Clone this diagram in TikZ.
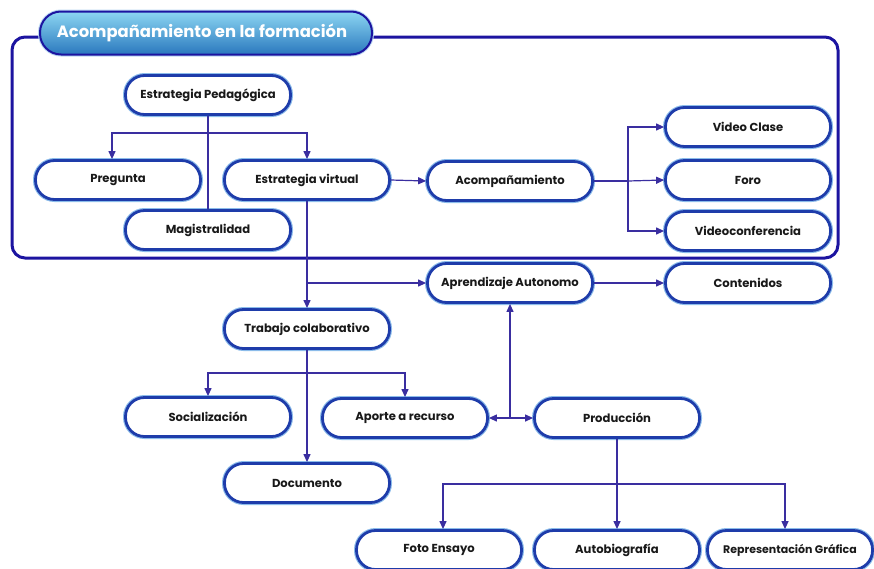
\documentclass[tikz,border=0pt]{standalone}
\usepackage{fontspec}
\setmainfont{Poppins}
\usetikzlibrary{arrows.meta,calc}
\definecolor{navy}{HTML}{1C14A0}
\definecolor{nodeblue}{HTML}{1E3CAA}
\definecolor{halo}{HTML}{8CBCEA}
\definecolor{linkc}{HTML}{3A2EA0}
\definecolor{titletop}{HTML}{8CD6F2}
\definecolor{titlebot}{HTML}{2A78BE}
\tikzset{
  pill/.style={rounded corners=19pt, minimum width=165pt, minimum height=39pt,
    inner sep=0pt, fill=white, draw=nodeblue, line width=2.8pt,
    preaction={draw=halo, line width=5pt},
    font=\bfseries\fontsize{11.6}{13}\selectfont, text=black!90},
  link/.style={draw=linkc, line width=1.2pt},
  arr/.style={link, -{Triangle[length=8pt,width=7pt]}},
  titlepill/.style={rounded corners=21pt, minimum width=332pt, minimum height=43pt,
    inner sep=0pt, top color=titletop, bottom color=titlebot, draw=navy, line width=2pt,
    preaction={draw=halo!60, line width=4pt},
    font=\bfseries\fontsize{16.4}{19}\selectfont, text=white}
}
\begin{document}
\begin{tikzpicture}[x=1pt,y=-1pt]
\useasboundingbox (0,0) rectangle (874,568);
% outer frame of the "formación" group
\draw[navy, line width=3pt, rounded corners=13pt] (12,37) rectangle (838,258);
\node[titlepill] (title) at (206,33) {\hspace*{-8pt}Acompañamiento en la formación};

% nodes
\node[pill] (ep)   at (208,95)  {Estrategia Pedagógica};
\node[pill] (preg) at (118,180) {Pregunta};
\node[pill] (ev)   at (307,180) {Estrategia virtual};
\node[pill] (mag)  at (208,230) {Magistralidad};
\node[pill] (acp)  at (510,181) {Acompañamiento};
\node[pill] (vc)   at (748,127) {Video Clase};
\node[pill] (foro) at (748,180) {Foro};
\node[pill] (vconf) at (748,231) {Videoconferencia};
\node[pill] (aa)   at (510,283) {Aprendizaje Autonomo};
\node[pill] (cont) at (748,283) {Contenidos};
\node[pill] (tc)   at (307,329) {Trabajo colaborativo};
\node[pill] (soc)  at (208,417) {Socialización};
\node[pill] (apo)  at (405,418) {Aporte a recurso};
\node[pill] (prod) at (617,418) {Producción};
\node[pill] (doc)  at (307,483) {Documento};
\node[pill] (foto) at (439,550) {Foto Ensayo};
\node[pill] (auto) at (617,550) {Autobiografía};
\node[pill, font=\bfseries\fontsize{11}{13}\selectfont] (rep) at (790,550) {Representación Gráfica};

% Estrategia Pedagógica branches
\coordinate (j1) at (208,133);
\draw[link] (ep.south) -- (mag.north);
\draw[arr] (j1) -| ([xshift=-6pt]preg.north);
\draw[arr] (j1) -| (ev.north);
\draw[arr] (ev.east) -- (acp.west);

% Acompañamiento branches
\coordinate (j4) at (628,181);
\draw[link] (acp.east) -- (j4);
\draw[arr] (j4) |- (vc.west);
\draw[arr] (j4) -- (foro.west);
\draw[arr] (j4) |- (vconf.west);

% Estrategia virtual downwards
\draw[arr] (ev.south) -- (tc.north);
\draw[arr] (ev.south |- aa.west) -- (aa.west);
\draw[arr] (aa.east) -- (cont.west);

% Trabajo colaborativo branches
\coordinate (j2) at (307,373);
\draw[arr] (tc.south) -- (doc.north);
\draw[arr] (j2) -| (soc.north);
\draw[arr] (j2) -| (apo.north);

% hub between Aporte, Producción and Aprendizaje
\coordinate (hub) at (aa.south |- apo.east);
\draw[arr] (hub) -- (aa.south);
\draw[arr] (hub) -- (apo.east);
\draw[arr] (hub) -- (prod.west);

% Producción branches
\coordinate (j3) at (617,484);
\draw[arr] (prod.south) -- (auto.north);
\draw[arr] (j3) -| ([xshift=4pt]foto.north);
\draw[arr] (j3) -| ([xshift=-5pt]rep.north);
\end{tikzpicture}
\end{document}
